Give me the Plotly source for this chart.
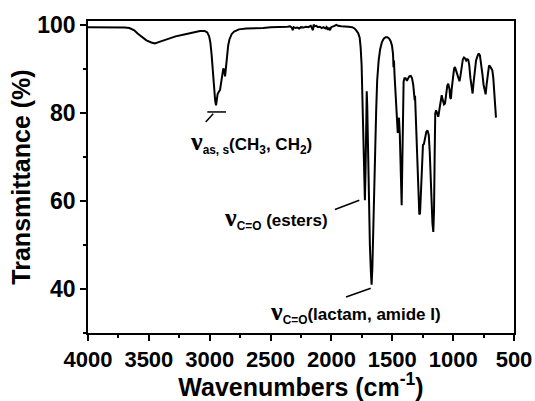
import plotly.graph_objects as go

# FTIR spectrum: wavenumber (cm-1) and transmittance (%)
wavenumber = [
    4000, 3900, 3800, 3700, 3660, 3620, 3590, 3560, 3520, 3480, 3450, 3420,
    3380, 3340, 3280, 3200, 3140, 3080, 3040, 3020, 3005, 2995, 2985, 2975,
    2965, 2955, 2948, 2942, 2935, 2925, 2915, 2905, 2896, 2888, 2880, 2874,
    2866, 2858, 2848, 2838, 2820, 2800, 2760, 2700, 2620, 2560, 2500, 2460,
    2420, 2380, 2360, 2340, 2325, 2318, 2310, 2295, 2280, 2265, 2250, 2230,
    2210, 2190, 2170, 2160, 2152, 2146, 2138, 2125, 2110, 2095, 2080, 2065,
    2050, 2040, 2030, 2022, 2012, 2002, 1990, 1975, 1960, 1945, 1920, 1890,
    1860, 1830, 1810, 1795, 1780, 1768, 1760, 1752, 1745, 1738, 1730, 1725,
    1719, 1714, 1710, 1706, 1700, 1692, 1684, 1676, 1670, 1664, 1656, 1648,
    1640, 1632, 1624, 1612, 1600, 1585, 1570, 1555, 1540, 1525, 1512, 1502,
    1494, 1490, 1486, 1482, 1476, 1468, 1460, 1455, 1450, 1445, 1438, 1432,
    1427, 1423, 1419, 1415, 1411, 1407, 1400, 1390, 1380, 1372, 1360, 1348,
    1338, 1328, 1320, 1316, 1313, 1308, 1302, 1296, 1290, 1286, 1282, 1278,
    1272, 1266, 1260, 1255, 1248, 1240, 1230, 1220, 1210, 1200, 1192, 1185,
    1178, 1170, 1163, 1157, 1152, 1147, 1140, 1130, 1122, 1112, 1100, 1094,
    1085, 1075, 1067, 1058, 1048, 1040, 1030, 1024, 1018, 1012, 1002, 992,
    985, 975, 962, 955, 948, 940, 930, 920, 911, 902, 893, 885,
    876, 868, 858, 848, 840, 832, 822, 812, 800, 790, 780, 770,
    760, 750, 740, 733, 725, 715, 705, 695, 685, 678, 670, 662,
    655, 648,
]
transmittance = [
    99.6, 99.6, 99.6, 99.5, 99.4, 98.9, 98.1, 97.4, 96.6, 96.1, 95.9, 96.2,
    96.6, 97.0, 97.5, 98.0, 98.4, 98.7, 98.7, 98.4, 97.5, 96.2, 93.5, 89.5,
    85.5, 82.8, 81.8, 83.0, 84.4, 84.9, 85.3, 87.2, 89.4, 90.2, 89.6, 88.4,
    90.5, 93.0, 95.5, 96.8, 98.0, 98.6, 99.1, 99.3, 99.3, 99.4, 99.6, 99.6,
    99.7, 99.6, 99.7, 99.8, 99.5, 98.9, 99.6, 99.4, 99.5, 99.3, 99.6, 99.5,
    99.7, 99.6, 99.9, 99.4, 98.9, 100.2, 99.8, 99.9, 99.6, 99.7, 99.4, 99.6,
    99.3, 99.6, 99.0, 99.5, 98.9, 99.6, 99.8, 99.9, 100.1, 99.9, 99.8, 99.8,
    99.7, 99.6, 99.3, 98.8, 98.2, 97.2, 95.0, 91.0, 82.0, 72.0, 64.0, 60.2,
    68.0, 80.0, 85.0, 82.0, 70.0, 58.0, 50.0, 44.0, 41.0, 44.5, 52.0, 62.0,
    72.0, 81.0, 87.5, 92.0, 94.5, 96.2, 97.0, 97.3, 97.3, 97.0, 96.3, 95.3,
    93.5, 90.5, 92.0, 89.0, 86.0, 81.5, 79.0, 75.5, 78.5, 79.0, 75.0, 68.0,
    61.5, 59.1, 66.0, 76.0, 84.0, 87.2, 88.0, 88.0, 87.4, 87.9, 88.4, 88.5,
    88.0, 86.5, 84.5, 83.0, 84.0, 80.0, 73.0, 67.0, 62.5, 62.0, 60.5, 57.0,
    57.2, 61.5, 68.0, 72.0, 72.8, 73.0, 74.5, 75.8, 76.1, 75.0, 71.0, 65.0,
    59.0, 55.0, 53.0, 58.0, 70.0, 80.0, 80.7, 79.8, 79.2, 81.0, 83.5, 84.1,
    83.0, 82.0, 82.2, 85.0, 86.3, 86.7, 85.5, 83.5, 83.3, 85.5, 88.5, 90.2,
    90.5, 89.5, 88.2, 87.8, 87.3, 88.5, 90.5, 92.3, 92.7, 92.5, 92.0, 92.3,
    92.2, 91.0, 88.0, 85.5, 84.5, 87.0, 90.5, 92.0, 93.0, 93.6, 93.2, 91.5,
    89.0, 86.5, 85.0, 84.3, 86.5, 89.5, 90.9, 90.6, 90.2, 89.8, 88.0, 85.0,
    82.0, 79.0,
]

x_ticks = [4000, 3500, 3000, 2500, 2000, 1500, 1000, 500]
y_ticks = [40, 60, 80, 100]

FONT = "Liberation Sans, Arial, sans-serif"
NU = ('<span style="font-family:\'Liberation Serif\', serif;'
      'font-size:26px">ν</span>')

fig = go.Figure()
fig.add_trace(go.Scatter(
    x=wavenumber, y=transmittance, mode="lines",
    line=dict(color="black", width=2), showlegend=False,
))

# band assignments
labels = [
    (3178, 73.4, NU + "<sub>as, s</sub>(CH<sub>3</sub>, CH<sub>2</sub>)"),
    (2899, 56.1, NU + "<sub>C=O</sub> (esters)"),
    (2521, 34.8, NU + "<sub>C=O</sub>(lactam, amide I)"),
]
for x, y, t in labels:
    fig.add_annotation(
        x=x, y=y, xref="x", yref="y", text=t, showarrow=False,
        xanchor="left", yanchor="middle",
        font=dict(family=FONT, size=17, color="black", weight="bold"),
    )

# leader lines
leaders = [
    (3020, 80.3, 2866, 80.3),
    (3033, 78.0, 2971, 79.9),
    (1971, 58.1, 1771, 60.2),
    (1880, 38.2, 1677, 40.2),
]
for x0, y0, x1, y1 in leaders:
    fig.add_shape(type="line", x0=x0, y0=y0, x1=x1, y1=y1, xref="x", yref="y",
                  line=dict(color="black", width=1.5))

axis_common = dict(
    showline=True, mirror=True, linecolor="black", linewidth=1.5,
    ticks="outside", tickwidth=1.5, tickcolor="black", ticklen=6,
    showgrid=False, zeroline=False,
)

fig.update_xaxes(
    range=[4000, 500], tickvals=x_ticks, ticktext=[str(v) for v in x_ticks],
    tickfont=dict(family=FONT, size=22, color="black", weight="bold"),
    minor=dict(dtick=250, tick0=0, ticks="outside", ticklen=3, tickwidth=1.5,
               tickcolor="black"),
    title=dict(text="Wavenumbers (cm<sup>-1</sup>)", standoff=11,
               font=dict(family=FONT, size=25, color="black", weight="bold")),
    **axis_common,
)
fig.update_yaxes(
    range=[30, 101], tickvals=y_ticks, ticktext=[str(v) for v in y_ticks],
    tickfont=dict(family=FONT, size=23, color="black", weight="bold"),
    minor=dict(dtick=10, tick0=0, ticks="outside", ticklen=3, tickwidth=1.5,
               tickcolor="black"),
    title=dict(text="Transmittance (%)", standoff=0,
               font=dict(family=FONT, size=25, color="black", weight="bold")),
    **axis_common,
)

fig.update_layout(
    width=535, height=401,
    margin=dict(l=88, r=21, t=21, b=68, autoexpand=False),
    plot_bgcolor="white", paper_bgcolor="white",
)

fig.write_html("out.html")
